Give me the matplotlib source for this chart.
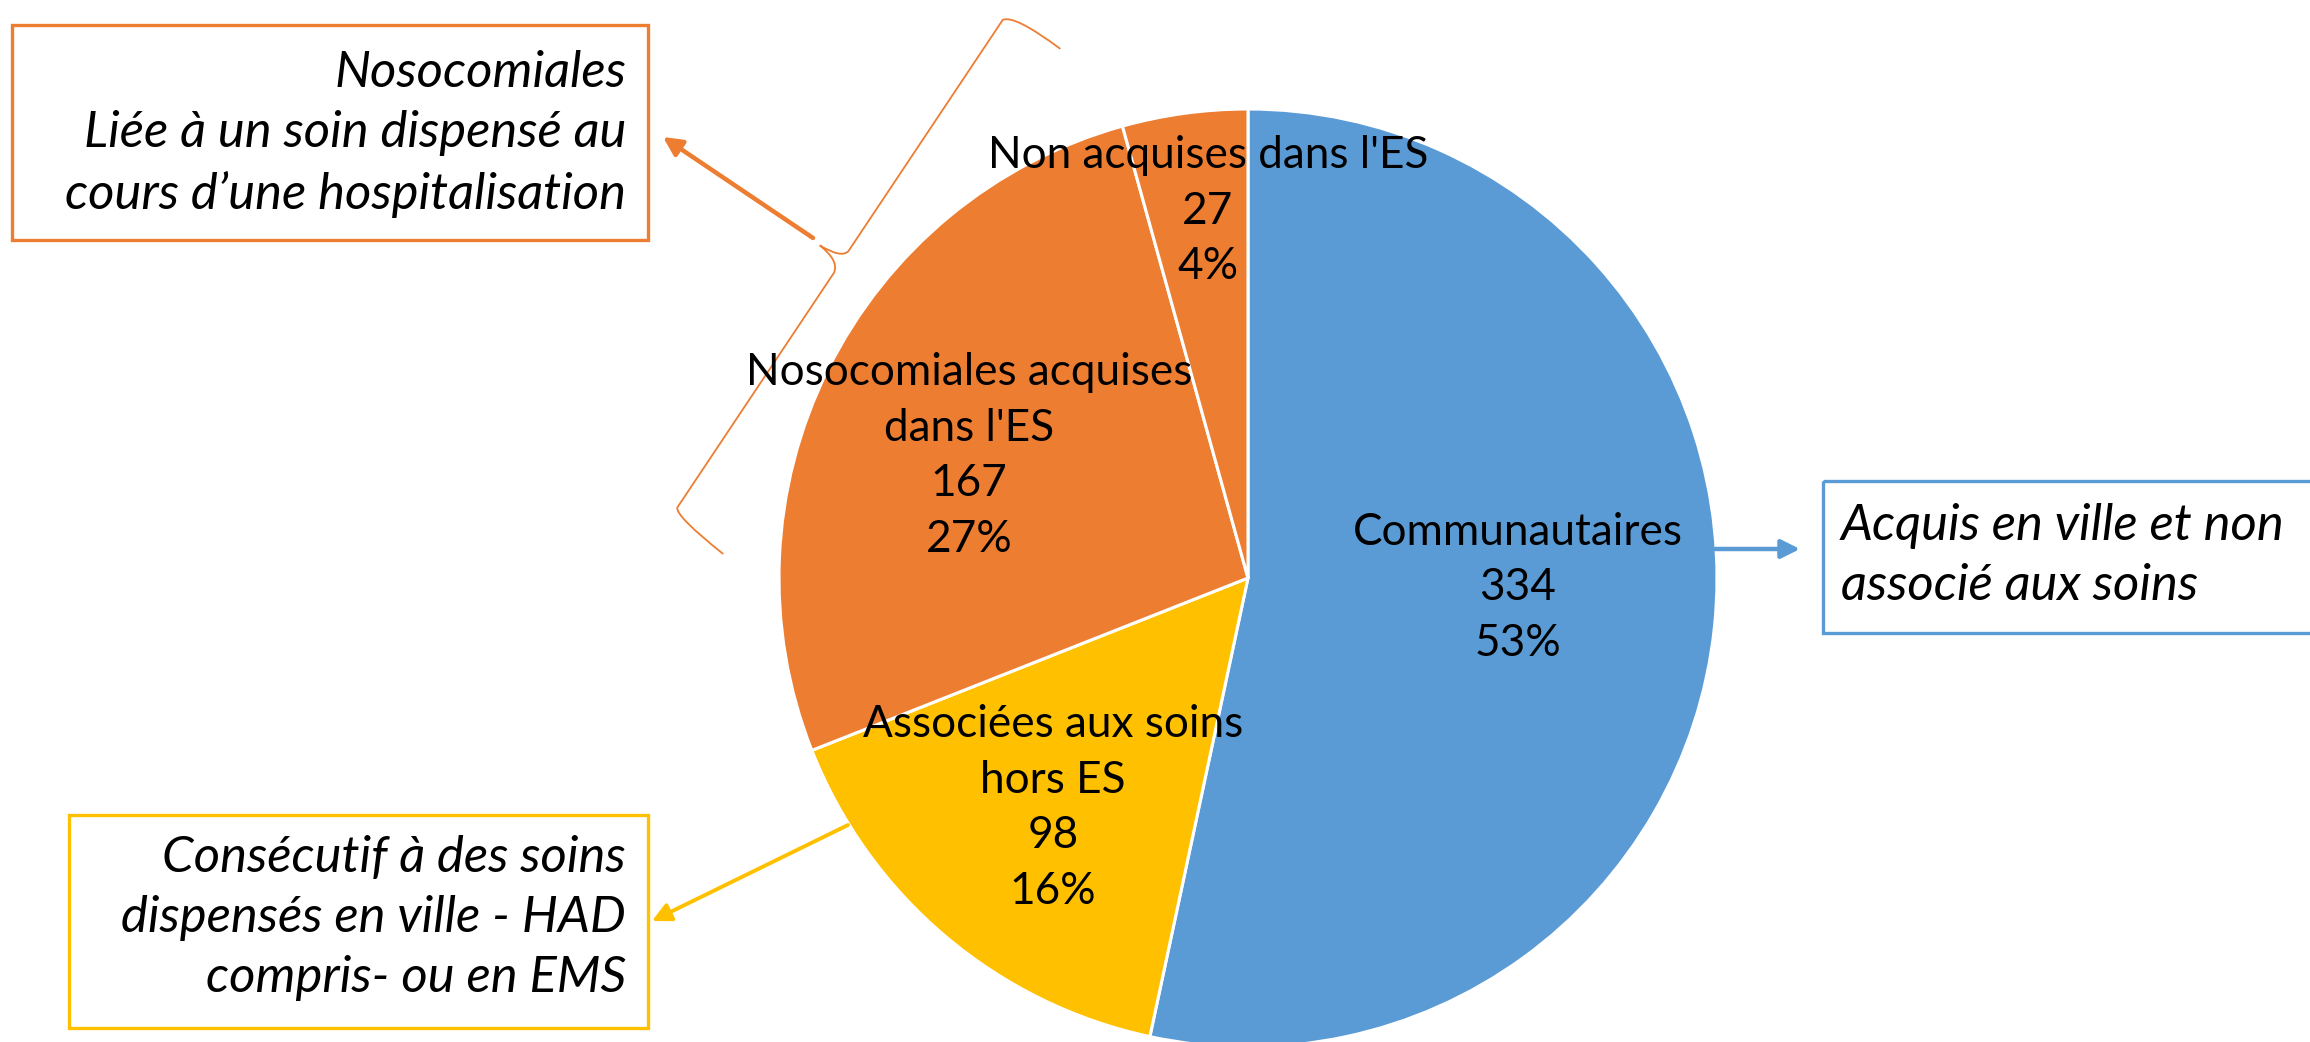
import matplotlib
matplotlib.use("Agg")
import matplotlib.pyplot as plt
import numpy as np
from matplotlib.patches import Rectangle, PathPatch
from matplotlib.path import Path

plt.rcParams['font.family'] = ['Lato', 'DejaVu Sans']

# ---- data ----
categories = ["Communautaires", "Associées aux soins\nhors ES",
              "Nosocomiales acquises\ndans l'ES", "Non acquises dans l'ES"]
values = [334, 98, 167, 27]
colors = ["#5B9BD5", "#FFC000", "#ED7D31", "#ED7D31"]

box_texts = {
    "noso": "Nosocomiales\nLiée à un soin dispensé au\ncours d\u2019une hospitalisation",
    "assoc": "Consécutif à des soins\ndispensés en ville - HAD\ncompris- ou en EMS",
    "comm": "Acquis en ville et non\nassocié aux soins",
}

W, H = 2310, 1042
CX, CY, R = 1248, 578, 469

fig = plt.figure(figsize=(W / 100, H / 100), dpi=100)
ax = fig.add_axes([0, 0, 1, 1])
ax.pie(values, colors=colors, startangle=90, counterclock=False, radius=1,
       wedgeprops=dict(edgecolor="white", linewidth=2.2))
ax.set_xlim(-CX / R, (W - CX) / R)
ax.set_ylim(-(H - CY) / R, CY / R)
ax.set_aspect('auto')
ax.axis('off')

# overlay in pixel coordinates
ov = fig.add_axes([0, 0, 1, 1], facecolor='none')
ov.set_xlim(0, W)
ov.set_ylim(H, 0)
ov.axis('off')

total = sum(values)
label_pos = [(1518, 588), (1053, 808), (969, 456), (1208, 211)]
for cat, v, (x, y) in zip(categories, values, label_pos):
    pct = round(100 * v / total)
    ov.text(x, y, f"{cat}\n{v}\n{pct}%", ha='center', va='center',
            multialignment='center', fontsize=31.8, linespacing=1.45, color='black')

# boxes
def box(x0, y0, x1, y1, col):
    ov.add_patch(Rectangle((x0, y0), x1 - x0, y1 - y0, fill=False,
                           edgecolor=col, linewidth=2.4, clip_on=False))

BOX_FS = 36.5
BOX_LS = 1.39
box(12, 25, 648, 240, "#ED7D31")
ov.text(626, 134, box_texts["noso"], ha='right', va='center', multialignment='right',
        fontsize=BOX_FS, style='italic', linespacing=BOX_LS)

box(69, 815, 648, 1028, "#FFC000")
ov.text(626, 918, box_texts["assoc"], ha='right', va='center', multialignment='right',
        fontsize=BOX_FS, style='italic', linespacing=BOX_LS)

box(1823, 481, 2340, 633, "#5B9BD5")
ov.text(1841, 556, box_texts["comm"], ha='left', va='center', multialignment='left',
        fontsize=BOX_FS, style='italic', linespacing=BOX_LS)

# arrows
def arrow(tail, tip, col, lw):
    ov.annotate('', xy=tip, xytext=tail,
                arrowprops=dict(arrowstyle='-|>', color=col, lw=lw,
                                mutation_scale=28, shrinkA=0, shrinkB=0))

arrow((813, 238), (663, 137), "#ED7D31", 3.2)
arrow((848, 825), (652, 921), "#FFC000", 2.8)
arrow((1715, 549), (1800, 549), "#5B9BD5", 3.2)

# brace
A = np.array([1006.0, 15.0])
B = np.array([675.0, 511.0])
L = np.linalg.norm(B - A)
u = (B - A) / L
n = np.array([u[1], -u[0]])
if n[0] < 0:
    n = -n

def P(t, o):
    return A + u * t + n * o

verts = [P(-2, 64), P(-5, 6), P(6, 0), P(284, 0), P(294, -2), P(295, -27),
         P(297, -2), P(310, 0), P(L - 4, 0), P(L + 4, 4), P(L + 9, 64)]
codes = [Path.MOVETO, Path.CURVE3, Path.CURVE3, Path.LINETO, Path.CURVE3, Path.CURVE3,
         Path.CURVE3, Path.CURVE3, Path.LINETO, Path.CURVE3, Path.CURVE3]
ov.add_patch(PathPatch(Path(verts, codes), fill=False, edgecolor="#ED7D31",
                       linewidth=1.3))

fig.savefig("out.png", dpi=100)
